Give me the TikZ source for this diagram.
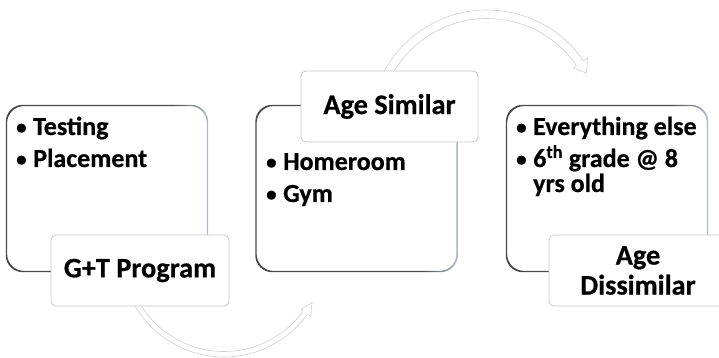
\documentclass[tikz,border=0pt]{standalone}
\usepackage{fontspec}
\setmainfont{Carlito}[BoldFeatures={FakeBold=0.6}]
\usetikzlibrary{calc}

\definecolor{edgedark}{HTML}{484848}
\definecolor{edgelight}{HTML}{AEB8C0}
\definecolor{labeledge}{HTML}{C8C8C8}
\definecolor{arrowedge}{HTML}{D0D0D0}

% stroke colour of the big boxes: dark, turning light at the right-hand side
\pgfdeclarehorizontalshading{boxedge}{100bp}{%
  color(0bp)=(edgedark); color(66bp)=(edgedark);
  color(74bp)=(edgelight); color(100bp)=(edgelight)}

\tikzset{
  bigbox/.style={minimum width=202pt, minimum height=167pt, inner sep=0pt,
    fill=white, rounded corners=17pt},
  labelbox/.style={draw=labeledge, line width=0.8pt, fill=white,
    rounded corners=5pt, minimum height=71pt, inner sep=0pt, align=center,
    font=\fontsize{28.3}{30}\selectfont\bfseries},
  itemtext/.style={anchor=base west, inner sep=0pt, align=flush left, text width=200pt,
    font=\fontsize{26}{25}\selectfont\bfseries},
  arrowshape/.style={draw=arrowedge, line width=0.6pt, fill=white,
    line join=miter},
}
\newcommand{\bul}{\makebox[17pt][l]{\raisebox{1pt}{\scalebox{0.8}{•}}}}

\begin{document}
\begin{tikzpicture}[x=1pt, y=1pt]
  \useasboundingbox (0,0) rectangle (719,358);
  \clip (0,0) rectangle (719,358);
  \fill[white] (0,0) rectangle (719,358);

  % curved process arrows
  \coordinate (tc) at (487,231);
  \coordinate (bc) at (224,104);
  \draw[arrowshape] ($(tc)+(160:117)$) arc[start angle=160, end angle=34.5, radius=117]
    -- ($(tc)+(34.5:122)$) -- ($(tc)+(28.4:113.2)$) -- ($(tc)+(34.5:104.5)$)
    -- ($(tc)+(34.5:108.5)$) arc[start angle=34.5, end angle=160, radius=108.5] -- cycle;
  \draw[arrowshape] ($(bc)+(200:103)$) arc[start angle=200, end angle=324.3, radius=103]
    -- ($(bc)+(324.3:106.6)$) -- ($(bc)+(331.2:100.5)$) -- ($(bc)+(324.3:95)$)
    -- ($(bc)+(324.3:97.5)$) arc[start angle=324.3, end angle=200, radius=97.5] -- cycle;

  % content boxes
  \foreach \name/\cx in {box1/107, box2/356.5, box3/607} {
    \node[bigbox] (\name) at (\cx,169.5) {};
    \shade[shading=boxedge, even odd rule, rounded corners=17pt]
      (\name.south west) rectangle (\name.north east)
      ([shift={(1.3,1.3)}]\name.south west) rectangle ([shift={(-1.3,-1.3)}]\name.north east);
  }

  % bullet lists
  \node[itemtext] (t1a) at (16,223) {\bul Testing};
  \node[itemtext] (t1b) at (16,191) {\bul Placement};
  \node[itemtext] (t2a) at (266,188) {\bul Homeroom};
  \node[itemtext] (t2b) at (266,156) {\bul Gym};
  \node[itemtext] (t3a) at (516,223) {\bul Everything else};
  \node[itemtext] (t3b) at (516,191) {\bul 6\textsuperscript{th} grade @ 8\\\hspace*{17pt}yrs old};

  % stage labels
  \node[labelbox, minimum width=178pt] (lab1) at (140,87.5) {G+T Program};
  \node[labelbox, minimum width=177pt] (lab2) at (389.5,251.5) {Age Similar};
  \node[labelbox, minimum width=178pt] (lab3) at (638,87.5) {Age\\Dissimilar};
\end{tikzpicture}
\end{document}
